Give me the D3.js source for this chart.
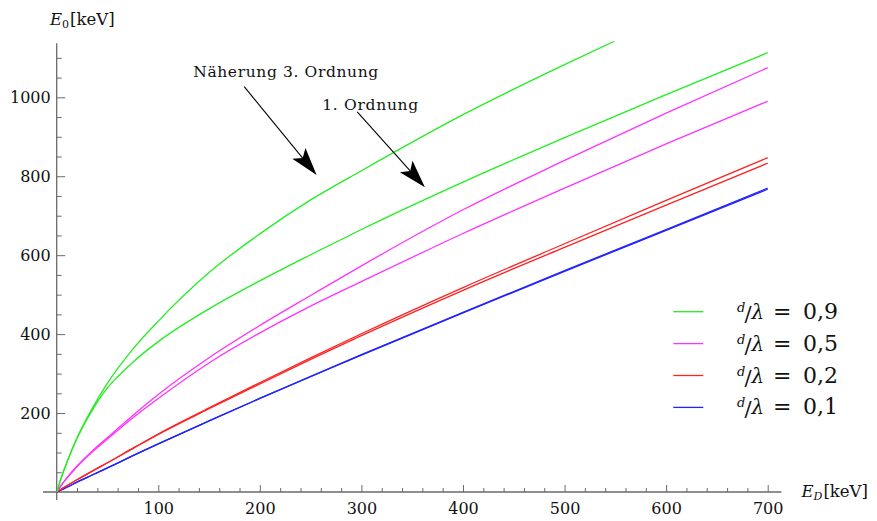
<!DOCTYPE html>
<html>
<head>
<meta charset="utf-8">
<script src="https://cdn.jsdelivr.net/npm/d3@7/dist/d3.min.js"></script>
<style>
  html, body { margin: 0; padding: 0; background: #fff; }
  svg { display: block; }
  svg text { font-family: "DejaVu Serif", serif; }
</style>
</head>
<body>
<svg id="chart" width="877" height="521"></svg>
<script>
// E_D grid [keV] shared by most curves
const edGrid = [0, 5, 10, 20, 35, 50, 75, 100, 150, 200, 250, 300, 400, 500, 600, 700];

// d/λ = 0.9, third-order approximation (runs off the top of the plot)
const edGreen3 = [0, 5, 10, 20, 35, 50, 75, 100, 150, 200, 250, 300, 400, 500, 549];
const e0Green3 = [0, 40, 75, 137, 212, 276, 362, 433, 556, 654, 740, 814, 956, 1083, 1142];
// d/λ = 0.9, first order (finer grid where it bends away)
const edGreen1 = [0, 5, 10, 20, 35, 42, 50, 60, 75, 100, 150, 200, 250, 300, 400, 500, 600, 700];
const e0Green1 = [0, 40, 75, 136, 207, 236, 264, 292, 329, 381, 464, 535, 601, 665, 785, 898, 1007, 1113];
// d/λ = 0.5
const e0Magenta3 = [0, 19, 36, 66, 104, 138, 194, 247, 340, 422, 498, 573, 715, 840, 960, 1075];
const e0Magenta1 = [0, 19, 35, 64, 101, 134, 188, 237, 327, 403, 471, 533, 655, 770, 882, 990];
// d/λ = 0.2
const e0Red3 = [0, 8, 16, 31, 53, 74, 111, 147, 213, 277, 340, 401, 518, 629, 739, 847];
const e0Red1 = [0, 8, 16, 31, 53, 74, 110, 146, 211, 274, 336, 396, 511, 620, 727, 833];
// d/λ = 0.1
const e0Blue3 = [0, 6, 12, 25, 43, 61, 92, 122, 180, 237, 293, 348, 455, 561, 665, 770];
const e0Blue1 = [0, 6, 12, 25, 43, 61, 92, 122, 180, 237, 292, 347, 454, 559, 663, 767];

const legendLabels = ["0,9", "0,5", "0,2", "0,1"];
const legendColors = ["#22ee22", "#ff33ff", "#ff2222", "#2222ff"];

const xMajorTicks = [100, 200, 300, 400, 500, 600, 700];
const yMajorTicks = [200, 400, 600, 800, 1000];

const svg = d3.select("#chart");

const x = d3.scaleLinear().domain([0, 700]).range([56.7, 767.7]);
const y = d3.scaleLinear().domain([0, 1000]).range([492, 97.3]);

const axisColor = "#6a6a6a";

// axis lines (slightly past the origin)
svg.append("line")
  .attr("x1", x(-13.5)).attr("x2", x(713.5))
  .attr("y1", y(0)).attr("y2", y(0))
  .attr("stroke", axisColor).attr("stroke-width", 1.3);
svg.append("line")
  .attr("x1", x(0)).attr("x2", x(0))
  .attr("y1", y(-20)).attr("y2", y(1137))
  .attr("stroke", axisColor).attr("stroke-width", 1.3);

function styleAxis(g) {
  g.attr("font-family", null).attr("font-size", null);
  g.select(".domain").remove();
  g.selectAll("line").attr("stroke", axisColor);
  g.selectAll("text").attr("fill", "#111").style("font-size", "16px");
}

// x axis: major ticks with labels, minor every 20
const xMinor = d3.range(20, 701, 20).filter(v => v % 100 !== 0);
svg.append("g")
  .attr("transform", `translate(0,${y(0)})`)
  .call(d3.axisBottom(x).tickValues(xMinor).tickSize(-4).tickFormat(""))
  .call(styleAxis);
svg.append("g")
  .attr("transform", `translate(0,${y(0)})`)
  .call(d3.axisBottom(x).tickValues(xMajorTicks).tickSize(-7).tickPadding(11).tickFormat(d3.format("d")))
  .call(styleAxis);

// y axis: major ticks with labels, minor every 50
const yMinor = d3.range(50, 1101, 50).filter(v => v % 200 !== 0);
svg.append("g")
  .attr("transform", `translate(${x(0)},0)`)
  .call(d3.axisLeft(y).tickValues(yMinor).tickSize(-5).tickFormat(""))
  .call(styleAxis);
svg.append("g")
  .attr("transform", `translate(${x(0)},0)`)
  .call(d3.axisLeft(y).tickValues(yMajorTicks).tickSize(-8.5).tickPadding(6).tickFormat(d3.format("d")))
  .call(styleAxis);

// axis titles
const yTitle = svg.append("text").attr("x", 50).attr("y", 25)
  .attr("font-size", 16.5).attr("fill", "#111");
yTitle.append("tspan").attr("font-style", "italic").text("E");
yTitle.append("tspan").attr("font-size", 11).attr("dy", 3).text("0");
yTitle.append("tspan").attr("dy", -3).attr("dx", 1).text("[keV]");

const xTitle = svg.append("text").attr("x", 801.5).attr("y", 497)
  .attr("font-size", 16.5).attr("fill", "#111");
xTitle.append("tspan").attr("font-style", "italic").text("E");
xTitle.append("tspan").attr("font-size", 11).attr("font-style", "italic").attr("dy", 3).text("D");
xTitle.append("tspan").attr("dy", -3).attr("dx", 1).text("[keV]");

// plot clip (top of plot range)
svg.append("clipPath").attr("id", "plotclip")
  .append("rect").attr("x", x(0)).attr("y", y(1142))
  .attr("width", x(720) - x(0)).attr("height", y(0) - y(1142) + 2);

const line = d3.line().x(d => x(d[0])).y(d => y(d[1])).curve(d3.curveMonotoneX);

const series = [
  { xs: edGrid, ys: e0Blue1, color: legendColors[3] },
  { xs: edGrid, ys: e0Blue3, color: legendColors[3] },
  { xs: edGrid, ys: e0Red1, color: legendColors[2] },
  { xs: edGrid, ys: e0Red3, color: legendColors[2] },
  { xs: edGrid, ys: e0Magenta1, color: legendColors[1] },
  { xs: edGrid, ys: e0Magenta3, color: legendColors[1] },
  { xs: edGreen1, ys: e0Green1, color: legendColors[0] },
  { xs: edGreen3, ys: e0Green3, color: legendColors[0] }
];

svg.append("g").attr("clip-path", "url(#plotclip)")
  .selectAll("path").data(series).join("path")
  .attr("d", s => line(s.xs.map((v, i) => [v, s.ys[i]])))
  .attr("fill", "none")
  .attr("stroke", s => s.color)
  .attr("stroke-width", 1.3);

// annotations: label, arrow start and tip in data units
const annotations = [
  { text: "Näherung 3. Ordnung", tx: 134.4, ty: 1052, w: 185, from: [184.6, 1027], to: [255.9, 803] },
  { text: "1. Ordnung", tx: 261.4, ty: 968, w: 96, from: [295.9, 963], to: [362.5, 772] }
];

const ann = svg.append("g");
annotations.forEach(a => {
  ann.append("text").attr("x", x(a.tx)).attr("y", y(a.ty))
    .attr("font-size", 15.5).attr("fill", "#111")
    .attr("textLength", a.w).attr("lengthAdjust", "spacing")
    .text(a.text);
  const x1 = x(a.from[0]), y1 = y(a.from[1]), x2 = x(a.to[0]), y2 = y(a.to[1]);
  const dx = x2 - x1, dy = y2 - y1, len = Math.hypot(dx, dy);
  const ux = dx / len, uy = dy / len, nx = -uy, ny = ux;
  const headLen = 28, headHalf = 8.5, notch = 6;
  ann.append("line").attr("x1", x1).attr("y1", y1)
    .attr("x2", x2 - ux * (headLen - notch)).attr("y2", y2 - uy * (headLen - notch))
    .attr("stroke", "#000").attr("stroke-width", 1.1);
  const bx = x2 - ux * headLen, by = y2 - uy * headLen;
  const pts = [
    [x2, y2],
    [bx + nx * headHalf, by + ny * headHalf],
    [x2 - ux * (headLen - notch), y2 - uy * (headLen - notch)],
    [bx - nx * headHalf, by - ny * headHalf]
  ];
  ann.append("polygon").attr("points", pts.map(p => p.join(",")).join(" ")).attr("fill", "#000");
});

// legend
const legendTop = 311.7, legendStep = 31.9;
const leg = svg.append("g").attr("fill", "#111");
legendLabels.forEach((lab, i) => {
  const cy = legendTop + i * legendStep;
  leg.append("line").attr("x1", 673.3).attr("x2", 703.3).attr("y1", cy).attr("y2", cy)
    .attr("stroke", legendColors[i]).attr("stroke-width", 1.3);
  const base = cy + 7;
  leg.append("text").attr("x", 737).attr("y", base - 7)
    .attr("font-style", "italic").attr("font-size", 13).text("d");
  leg.append("text").attr("x", 744.5).attr("y", base + 2)
    .attr("font-size", 21).text("/");
  leg.append("text").attr("x", 751.5).attr("y", base)
    .attr("font-style", "italic").attr("font-size", 20).text("λ");
  leg.append("text").attr("x", 773).attr("y", base)
    .attr("font-size", 22).text("=");
  leg.append("text").attr("x", 803).attr("y", base)
    .attr("font-size", 22).text(lab);
});
</script>
</body>
</html>
